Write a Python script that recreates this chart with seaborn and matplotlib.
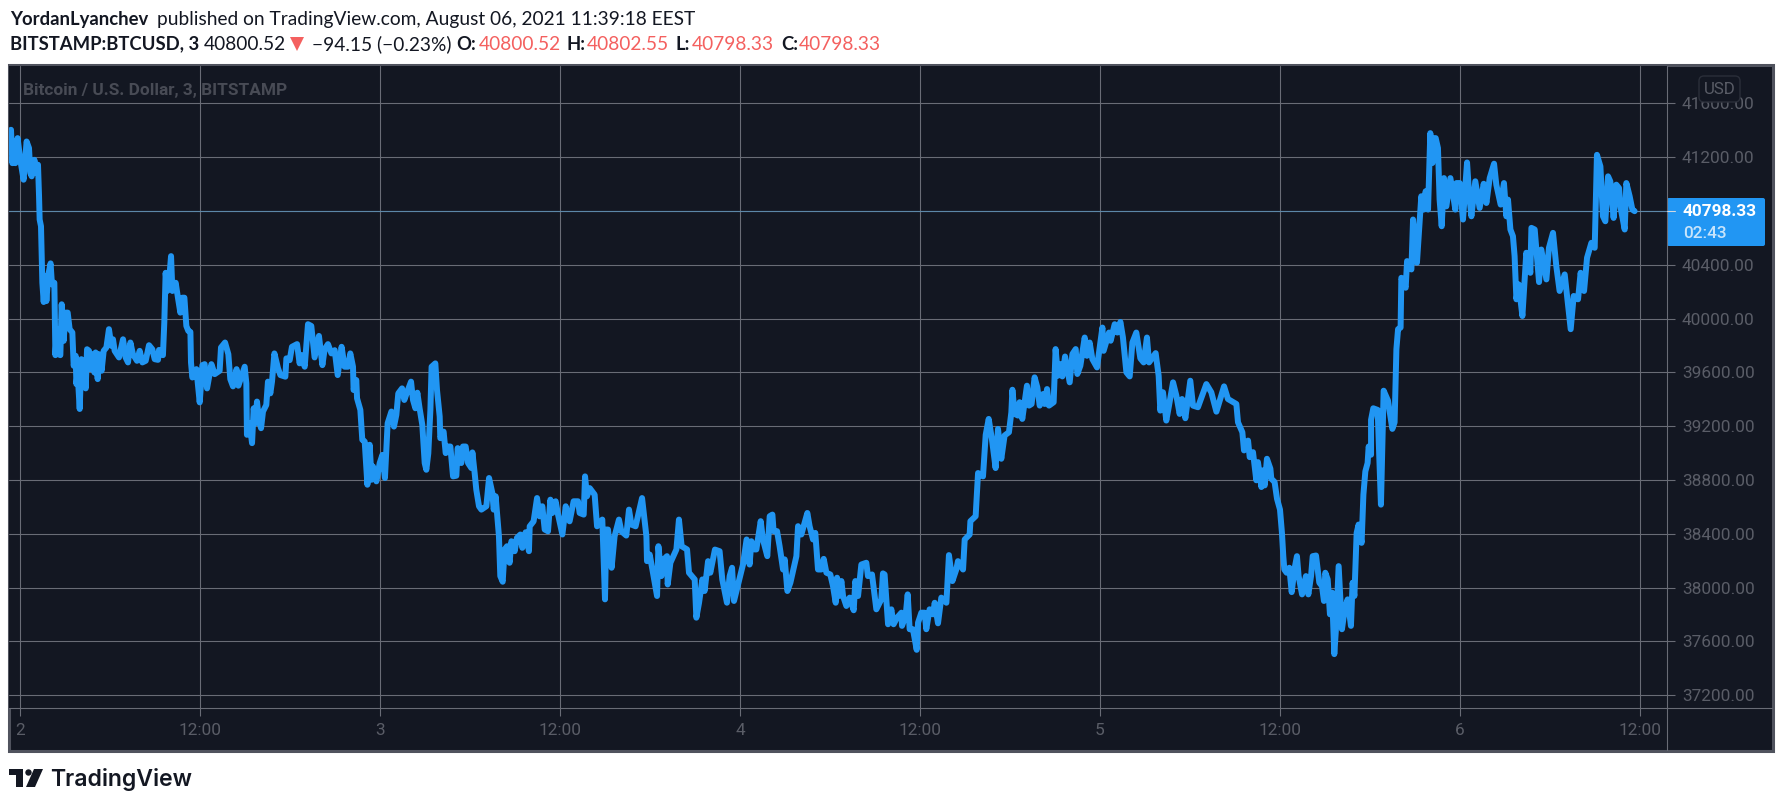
import pandas as pd
import seaborn as sns
import matplotlib.pyplot as plt
from matplotlib.patches import Rectangle, Polygon, FancyBboxPatch, Circle

# Colours
BG = '#131722'
GRID = '#696c76'
FRAME = '#50535e'
MUTED = '#5a5d67'
BLUE = '#2196f3'
RED = '#f4605f'
DARK = '#131722'

# Chart values (hours since Aug 2 00:00, BTC price in USD)
hours = [
    -0.60, -0.51, -0.38, -0.31, -0.16, 0.02, 0.24, 0.44, 0.60, 0.69, 0.78, 0.96, 1.09, 1.20, 1.27, 1.31, 1.40, 1.49,
    1.58, 1.67, 1.76, 1.89, 2.04, 2.13, 2.29, 2.36, 2.47, 2.56, 2.69, 2.78, 2.91, 3.04, 3.18, 3.31, 3.49, 3.58,
    3.71, 3.76, 3.84, 3.98, 4.09, 4.24, 4.38, 4.47, 4.60, 4.69, 4.82, 4.96, 5.04, 5.18, 5.27, 5.44, 5.58, 5.76,
    5.93, 6.09, 6.20, 6.31, 6.60, 6.87, 7.04, 7.20, 7.36, 7.53, 7.80, 7.98, 8.16, 8.38, 8.60, 8.82, 8.98, 9.20,
    9.27, 9.53, 9.62, 9.71, 9.82, 9.98, 10.07, 10.16, 10.38, 10.53, 10.69, 10.82, 10.96, 11.09, 11.22, 11.36,
    11.40, 11.49, 11.76, 11.98, 12.16, 12.31, 12.47, 12.76, 12.98, 13.31, 13.40, 13.67, 13.89, 14.02, 14.20,
    14.44, 14.56, 14.98, 15.09, 15.13, 15.31, 15.47, 15.58, 15.69, 15.80, 15.93, 16.07, 16.20, 16.42, 16.53,
    16.69, 16.80, 16.96, 17.20, 17.36, 17.69, 17.76, 17.98, 18.13, 18.47, 18.64, 18.78, 18.98, 19.20, 19.42,
    19.64, 19.93, 20.16, 20.31, 20.53, 20.76, 20.98, 21.18, 21.44, 21.64, 21.87, 22.02, 22.20, 22.24, 22.42,
    22.47, 22.69, 22.82, 22.98, 23.16, 23.31, 23.44, 23.53, 23.76, 23.98, 24.16, 24.33, 24.51, 24.76, 24.93,
    25.09, 25.22, 25.47, 25.62, 25.82, 26.07, 26.20, 26.36, 26.49, 26.64, 26.82, 26.98, 27.09, 27.22, 27.36,
    27.44, 27.69, 27.80, 27.98, 28.02, 28.24, 28.38, 28.53, 28.69, 28.87, 29.09, 29.18, 29.42, 29.53, 29.71,
    29.87, 30.09, 30.16, 30.31, 30.42, 30.60, 30.76, 31.09, 31.27, 31.49, 31.58, 31.71, 31.80, 31.93, 32.02,
    32.18, 32.31, 32.47, 32.64, 32.76, 32.98, 33.13, 33.36, 33.49, 33.71, 33.93, 33.98, 34.24, 34.47, 34.64,
    34.82, 34.98, 35.20, 35.36, 35.49, 35.71, 35.87, 36.16, 36.38, 36.64, 36.91, 37.20, 37.31, 37.58, 37.67,
    37.80, 37.98, 38.31, 38.47, 38.82, 39.00, 39.09, 39.20, 39.44, 39.64, 39.93, 40.09, 40.42, 40.60, 40.76,
    41.04, 41.47, 41.76, 41.80, 41.98, 42.16, 42.47, 42.56, 42.76, 42.91, 43.13, 43.18, 43.36, 43.76, 43.93,
    44.11, 44.47, 44.60, 44.98, 45.09, 45.27, 45.49, 45.64, 45.87, 46.02, 46.33, 46.64, 46.82, 47.13, 47.31,
    47.47, 47.60, 48.09, 48.20, 48.44, 48.64, 48.76, 48.98, 49.09, 49.38, 49.53, 49.82, 49.98, 50.16, 50.24,
    50.47, 50.64, 50.87, 50.98, 51.16, 51.36, 51.76, 51.87, 52.09, 52.49, 52.64, 52.87, 53.02, 53.20, 53.42,
    53.58, 53.76, 54.02, 54.20, 54.38, 54.47, 54.60, 54.76, 54.87, 55.09, 55.31, 55.58, 55.69, 55.87, 56.09,
    56.42, 56.53, 56.80, 57.09, 57.42, 57.53, 57.64, 57.87, 58.09, 58.24, 58.47, 58.76, 58.80, 59.04, 59.18,
    59.31, 59.53, 59.78, 59.87, 60.09, 60.31, 60.42, 60.64, 60.87, 60.98, 61.20, 61.42, 61.76, 61.93, 62.16,
    62.42, 62.53, 62.87, 62.98, 63.31, 63.36, 63.71, 63.87, 64.20, 64.38, 64.58, 64.80, 65.04, 65.20, 65.42,
    65.64, 65.93, 66.09, 66.16, 66.31, 66.53, 66.64, 66.82, 67.13, 67.27, 67.44, 67.64, 67.82, 67.98, 68.20,
    68.31, 68.47, 68.60, 68.91, 69.04, 69.20, 69.38, 69.49, 69.67, 69.98, 70.16, 70.38, 70.49, 70.69, 70.98,
    71.13, 71.31, 71.49, 71.80, 72.16, 72.24, 72.60, 72.71, 72.98, 73.16, 73.36, 73.53, 73.76, 73.98, 74.16,
    74.42, 74.69, 74.91, 75.13, 75.27, 75.71, 75.91, 76.02, 76.20, 76.42, 76.60, 76.87, 77.09, 77.31, 77.47,
    77.69, 78.02, 78.20, 78.53, 79.09, 79.42, 79.76, 80.27, 80.53, 81.09, 81.20, 81.49, 81.60, 81.87, 81.98,
    82.20, 82.42, 82.53, 82.76, 82.87, 82.98, 83.13, 83.36, 83.42, 83.64, 83.80, 84.00, 84.13, 84.22, 84.29,
    84.44, 84.62, 84.78, 84.96, 85.13, 85.24, 85.47, 85.73, 85.89, 86.07, 86.18, 86.40, 86.62, 86.80, 86.93,
    87.02, 87.18, 87.33, 87.47, 87.62, 87.73, 87.91, 88.13, 88.33, 88.51, 88.73, 88.84, 88.96, 89.11, 89.24,
    89.44, 89.56, 89.69, 89.84, 89.91, 90.07, 90.07, 90.22, 90.51, 90.73, 90.91, 91.20, 91.49, 91.64, 91.76,
    91.87, 92.04, 92.09, 92.38, 92.47, 92.76, 92.87, 93.13, 93.42, 93.58, 93.71, 93.87, 94.02, 94.16, 94.27,
    94.38, 94.53, 94.64, 94.78, 94.93, 95.09, 95.36, 95.69, 95.76, 95.98, 96.20, 96.47, 96.60, 96.76, 97.02,
    97.31, 97.58, 97.76, 97.98, 98.27, 98.42, 98.71, 98.93, 99.09, 99.20, 99.36, 99.53, 99.64, 99.76, 99.91,
    100.16, 100.42, 100.69, 100.76, 100.98, 101.27, 101.42, 101.76, 101.93, 102.20, 102.42, 102.64, 102.98,
    103.38, 103.58, 103.87, 104.04, 104.27, 104.47, 104.76, 104.98, 105.13, 105.36, 105.53, 105.69, 105.87,
    106.02, 106.24, 106.42, 106.60, 106.71, 106.98, 107.09, 107.31, 107.49, 107.64,
]
prices = [
    41403, 41155, 41316, 41155, 41341, 41180, 41032, 41316, 41267, 41081, 41057, 41180, 41081, 41143, 40909, 40736, 40686, 40266,
    40123, 40316, 40130, 40328, 40410, 40254, 40266, 39728, 39921, 39735, 39728, 40106, 39834, 40044, 40044, 39921, 39896, 39649,
    39723, 39513, 39600, 39328, 39698, 39674, 39481, 39772, 39760, 39624, 39735, 39599, 39748, 39550, 39735, 39612, 39760, 39785,
    39921, 39797, 39846, 39760, 39711, 39846, 39711, 39674, 39822, 39735, 39686, 39760, 39674, 39686, 39802, 39772, 39698, 39693,
    39767, 39728, 39970, 40340, 40205, 40340, 40464, 40205, 40266, 40155, 40044, 40155, 40155, 39945, 39908, 39901,
    39674, 39562, 39624, 39377, 39654, 39661, 39481, 39661, 39587, 39612, 39785, 39822, 39735, 39550, 39496,
    39624, 39501, 39642, 39518, 39136, 39222, 39074, 39333, 39222, 39383, 39247, 39185, 39309, 39358, 39531,
    39444, 39531, 39741, 39630, 39580, 39568, 39704, 39691, 39790, 39810, 39667, 39728, 39642, 39958, 39945,
    39711, 39871, 39654, 39772, 39810, 39741, 39765, 39580, 39790, 39642, 39642, 39741, 39642, 39469, 39543,
    39407, 39321, 39099, 39086, 38765, 39062, 38802, 38901, 38790, 38926, 38987, 38815, 39222, 39309, 39197,
    39284, 39444, 39481, 39395, 39457, 39531, 39395, 39333, 39449, 39333, 39210, 38926, 38876, 38998, 39321,
    39642, 39667, 39469, 39271, 39111, 39160, 39000, 39049, 39049, 38827, 38832, 39037, 38926, 39049, 39049,
    38926, 38889, 39005, 38852, 38728, 38605, 38580, 38605, 38815, 38703, 38580, 38679, 38555, 38382, 38086,
    38044, 38284, 38308, 38185, 38345, 38271, 38370, 38395, 38296, 38412, 38271, 38456, 38493, 38666, 38530,
    38605, 38432, 38419, 38654, 38555, 38642, 38543, 38395, 38605, 38493, 38642, 38642, 38555, 38543, 38827,
    38679, 38740, 38691, 38456, 38506, 37913, 38432, 38432, 38148, 38382, 38506, 38419, 38387, 38580, 38469,
    38456, 38666, 38382, 38197, 38246, 38135, 37938, 38308, 38086, 38209, 38234, 38024, 38185, 38284, 38506,
    38308, 38284, 38111, 38061, 37777, 37888, 38061, 37975, 38197, 38111, 38283, 38271, 38061, 37888, 38086,
    38148, 37901, 38123, 38172, 38358, 38172, 38345, 38284, 38284, 38494, 38358, 38234, 38531, 38543, 38420,
    38420, 38308, 38135, 38210, 37975, 38037, 38234, 38457, 38395, 38555, 38457, 38358, 38407, 38135, 38135,
    38214, 38111, 38098, 38012, 37888, 38074, 37938, 38049, 37938, 37864, 37926, 37832, 38049, 37938, 38172,
    38185, 38086, 38098, 37839, 37913, 38106, 38098, 37728, 37839, 37728, 37777, 37814, 37716, 37790, 37950,
    37691, 37691, 37538, 37740, 37814, 37814, 37691, 37839, 37802, 37888, 37735, 37926, 37888, 38242, 38049,
    38135, 38197, 38135, 38358, 38395, 38494, 38531, 38852, 38827, 39136, 39254, 39099, 38889, 39180, 38958,
    39131, 39155, 39303, 39471, 39291, 39279, 39378, 39254, 39501, 39353, 39365, 39563, 39489, 39353, 39439,
    39365, 39476, 39353, 39378, 39773, 39575, 39662, 39570, 39718, 39526, 39736, 39773, 39588, 39649, 39859,
    39723, 39822, 39699, 39637, 39933, 39760, 39896, 39835, 39958, 39896, 39975, 39859, 39600, 39570, 39822,
    39896, 39704, 39674, 39859, 39674, 39743, 39575, 39316, 39452, 39242, 39353, 39526, 39427, 39291, 39402,
    39259, 39538, 39353, 39341, 39513, 39452, 39308, 39496, 39402, 39365, 39229, 39155, 39020, 39093, 38970,
    39007, 38798, 38933, 38748, 38872, 38760, 38958, 38884, 38810, 38785, 38661, 38580, 38407, 38234, 38135,
    38111, 38148, 37967, 38135, 38234, 38086, 37950, 38086, 37950, 38086, 38234, 38239, 38037, 38012, 37901,
    38111, 38061, 37802, 37963, 37506, 37691, 38160, 37691, 37851, 37913, 37716, 38037, 37938, 38407, 38469,
    38333, 38691, 38864, 38926, 39049, 38988, 39247, 39333, 39321, 38617, 39464, 39390, 39180, 39229, 39772,
    39921, 39933, 40303, 40229, 40427, 40365, 40736, 40415, 40909, 40810, 40946, 40810, 41378, 41156, 41341,
    41341, 41267, 40884, 40686, 41044, 40834, 41044, 40810, 41007, 41007, 40736, 41160, 40933, 40760, 41020,
    40822, 41002, 40859, 41044, 41151, 40995, 40847, 41007, 40760, 40884, 40662, 40612, 40464, 40143, 40254,
    40019, 40489, 40340, 40674, 40662, 40271, 40513, 40291, 40526, 40637, 40390, 40205, 40328,
    39921, 40168, 40143, 40340, 40205, 40452, 40563, 40526, 41217, 41131, 40760, 40723, 41057,
    41020, 40748, 40995, 40970, 40822, 40662, 41007, 40909, 40810, 40798,
]
price_ticks = [37200, 37600, 38000, 38400, 38800, 39200, 39600, 40000, 40400, 40800, 41200, 41600]
time_ticks = [0, 12, 24, 36, 48, 60, 72, 84, 96, 108]
time_labels = ['2', '12:00', '3', '12:00', '4', '12:00', '5', '12:00', '6', '12:00']
last_price = 40798.33

sns.set_theme(style='dark', rc={'axes.facecolor': BG, 'figure.facecolor': 'white'})
plt.rcParams['font.family'] = ['Roboto', 'DejaVu Sans']

W, H = 1783, 806
fig = plt.figure(figsize=(W / 100, H / 100), dpi=100)


# Full-figure axes measured in pixels, used for the frame and page text
def page_axes(zorder):
    page = fig.add_axes([0, 0, 1, 1], zorder=zorder)
    page.set_xlim(0, W)
    page.set_ylim(H, 0)
    page.axis('off')
    return page


under = page_axes(-1)
under.add_patch(Rectangle((9, 65), 1764, 686, facecolor=BG, edgecolor=FRAME, linewidth=2.2))

# Main chart
ax = fig.add_axes([9 / W, 1 - 708 / H, (1667 - 9) / W, (708 - 66) / H], zorder=1)
df = pd.DataFrame({'hour': hours, 'price': prices})
ax.axhline(last_price, color='#5c87a8', linewidth=0.8, zorder=1.5)
sns.lineplot(data=df, x='hour', y='price', estimator=None, sort=False, color=BLUE,
             linewidth=4.3, solid_joinstyle='round', solid_capstyle='round', ax=ax, zorder=3)
ax.set_xlim(-0.733, 109.8)
ax.set_ylim(37105.6, 41877)
ax.set_xticks(time_ticks)
ax.set_xticklabels(time_labels)
ax.set_yticks(price_ticks)
ax.set_yticklabels([f'{p:.2f}' for p in price_ticks])
ax.yaxis.tick_right()
ax.set_xlabel('')
ax.set_ylabel('')
ax.grid(True, color=GRID, linewidth=0.78)
ax.set_axisbelow(True)
ax.tick_params(axis='both', colors=GRID, labelcolor=MUTED, labelsize=12.4, length=5.8, width=0.78, pad=5, bottom=True, right=True)
for spine in ax.spines.values():
    spine.set_visible(False)

# Dividers, price label and page text go on top
top = page_axes(5)
top.plot([1667, 1667], [66, 750], color=GRID, linewidth=0.78)
top.plot([9, 1772], [708, 708], color=GRID, linewidth=0.78)

top.add_patch(FancyBboxPatch((1699, 76), 41, 26, boxstyle='round,pad=0,rounding_size=5', facecolor=BG, edgecolor='#2a2e39', linewidth=1))
top.text(1719.5, 89, 'USD', color=MUTED, fontsize=12.2, ha='center', va='center')

top.add_patch(FancyBboxPatch((1667, 198), 98, 48, boxstyle='round,pad=0,rounding_size=2', facecolor=BLUE, edgecolor='none'))
top.plot([1667, 1675], [211.3, 211.3], color='#d0d8e0', linewidth=0.78)
top.text(1683, 212, f'{last_price:.2f}', color='white', fontsize=12.4, fontweight='bold', ha='left', va='center')
top.text(1683, 233, '02:43', color='#c8e4fb', fontsize=12.4, fontweight='medium', ha='left', va='center')

top.text(23, 90, 'Bitcoin / U.S. Dollar, 3, BITSTAMP', color='#484b55', fontsize=12.4, fontweight='bold', ha='left', va='center')

# Header lines
HEAD = ['Lato', 'DejaVu Sans']


def head(x, y, s, color=DARK, weight='normal'):
    size = 13.3 if weight == 'bold' else 13.8
    top.text(x, y, s, color=color, fontsize=size, fontweight=weight, family=HEAD, ha='left', va='center')


head(10, 19, 'YordanLyanchev', weight='bold')
head(157, 19, 'published on TradingView.com, August 06, 2021 11:39:18 EEST')
head(10, 44, 'BITSTAMP:BTCUSD, 3', weight='bold')
head(204, 44, '40800.52')
top.add_patch(Polygon([(290, 37), (304, 37), (297, 51)], facecolor=RED, edgecolor='none'))
head(312, 44, '−94.15 (−0.23%)')
head(456, 44, 'O:', weight='bold')
head(479, 44, '40800.52', color=RED)
head(567, 44, 'H:', weight='bold')
head(587, 44, '40802.55', color=RED)
head(676, 44, 'L:', weight='bold')
head(692, 44, '40798.33', color=RED)
head(781, 44, 'C:', weight='bold')
head(799, 44, '40798.33', color=RED)

# Footer logo
top.add_patch(Polygon([(9, 769), (23, 769), (23, 787), (16, 787), (16, 775), (9, 775)], facecolor=DARK, edgecolor='none'))
top.add_patch(Circle((28.5, 772.5), 3.2, facecolor=DARK, edgecolor='none'))
top.add_patch(Polygon([(34, 769), (43, 769), (35, 787), (26, 787)], facecolor=DARK, edgecolor='none'))
top.text(50, 786, 'TradingView', color=DARK, fontsize=16.6, fontweight='semibold', family=['Inter', 'DejaVu Sans'], ha='left', va='baseline')

plt.savefig('out.png', dpi=100)
